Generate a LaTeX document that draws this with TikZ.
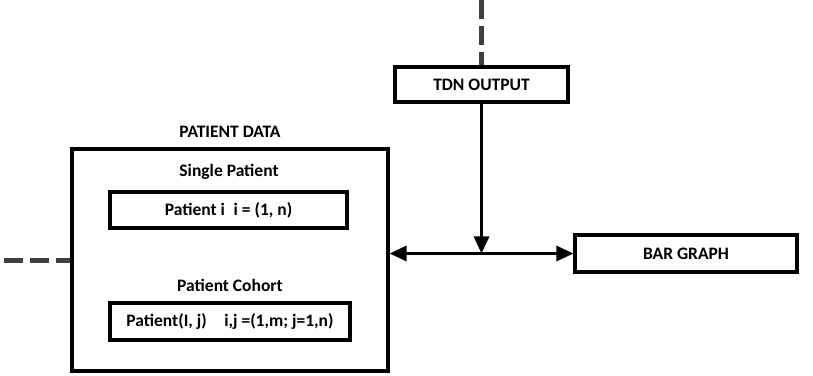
\documentclass[tikz,border=0pt]{standalone}
\usepackage{fontspec}
\setmainfont{Carlito}
\usetikzlibrary{arrows.meta}
\begin{document}
\begin{tikzpicture}[x=1pt, y=1pt, every node/.style={font=\fontsize{17.5}{21}\selectfont\bfseries},
		box/.style={draw, line width=3.2pt, inner sep=0pt, align=center},
		feed/.style={draw=black!75, line width=5pt, dash pattern=on 19pt off 7pt},
		tip/.style={line width=3pt, -{Triangle[length=17pt, width=15pt]}}]
	\useasboundingbox (0,0) rectangle (813,375);
	\node[box, minimum width=316pt, minimum height=222pt] (pd) at (230,115) {};
	\node (pdl) at (230,243) {PATIENT DATA};
	\node (sp) at (229,203) {Single Patient};
	\node[box, minimum width=237pt, minimum height=36pt] (pi) at (228.5,165) {Patient i\enspace i = (1, n)};
	\node (pc) at (230,90) {Patient Cohort};
	\node[box, minimum width=240pt, minimum height=37pt] (pj) at (230,53.5) {Patient(I, j)\quad i,j =(1,m; j=1,n)};
	\node[box, minimum width=173pt, minimum height=35pt] (tdn) at (481.5,290.5) {TDN OUTPUT};
	\node[box, minimum width=222pt, minimum height=37pt] (bar) at (686,121.5) {BAR GRAPH};
	\coordinate (up) at (tdn.north |- 0,375);
	\coordinate (in) at (4,115);
	\coordinate (mid) at (tdn.south |- bar.west);
	\draw[feed] (up) -- (tdn.north);
	\draw[feed] (in) -- (pd.west);
	\draw[tip] (tdn.south) -- (mid);
	\draw[tip, {Triangle[length=17pt, width=15pt]}-{Triangle[length=17pt, width=15pt]}] (pd.east |- mid) -- (bar.west);
\end{tikzpicture}
\end{document}
